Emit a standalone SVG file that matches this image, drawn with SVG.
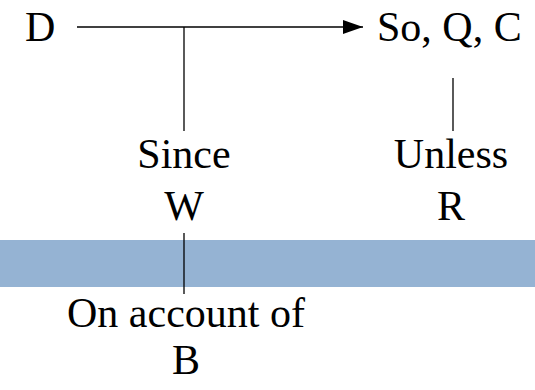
<svg xmlns="http://www.w3.org/2000/svg" width="535" height="390" viewBox="0 0 535 390">
  <style>
    .lbl { font-family: "Liberation Serif", serif; font-size: 42px; fill: #000; }
    .mid { text-anchor: middle; }
    .wire { stroke: #000; stroke-width: 1.3; fill: none; }
  </style>
  <defs>
    <marker id="arrow" markerWidth="20" markerHeight="14" refX="20" refY="7" orient="auto" markerUnits="userSpaceOnUse">
      <path d="M0,0 L20,7 L0,14 Z" fill="#000"/>
    </marker>
  </defs>

  <rect id="band" x="0" y="240" width="535" height="47" fill="#95B3D3"/>

  <g id="connectors">
    <line class="wire" x1="77" y1="27" x2="363" y2="27" marker-end="url(#arrow)"/>
    <line class="wire" x1="184" y1="27" x2="184" y2="131"/>
    <line class="wire" x1="453" y1="78" x2="453" y2="131"/>
    <line class="wire" x1="184" y1="233" x2="184" y2="294"/>
  </g>

  <g id="datum">
    <text class="lbl" x="25" y="41" font-family="Liberation Serif" style="font-family: 'Liberation Serif', serif">D</text>
  </g>
  <g id="claim">
    <text class="lbl" x="377" y="41" font-family="Liberation Serif" style="font-family: 'Liberation Serif', serif">So, Q, C</text>
  </g>
  <g id="warrant">
    <text class="lbl mid" x="184" y="168" font-family="Liberation Serif" style="font-family: 'Liberation Serif', serif">Since</text>
    <text class="lbl mid" x="184" y="220" font-family="Liberation Serif" style="font-family: 'Liberation Serif', serif">W</text>
  </g>
  <g id="rebuttal">
    <text class="lbl mid" x="451" y="168" font-family="Liberation Serif" style="font-family: 'Liberation Serif', serif">Unless</text>
    <text class="lbl mid" x="451" y="220" font-family="Liberation Serif" style="font-family: 'Liberation Serif', serif">R</text>
  </g>
  <g id="backing">
    <text class="lbl mid" x="186" y="327" font-family="Liberation Serif" style="font-family: 'Liberation Serif', serif">On account of</text>
    <text class="lbl mid" x="186" y="374" font-family="Liberation Serif" style="font-family: 'Liberation Serif', serif">B</text>
  </g>
</svg>
